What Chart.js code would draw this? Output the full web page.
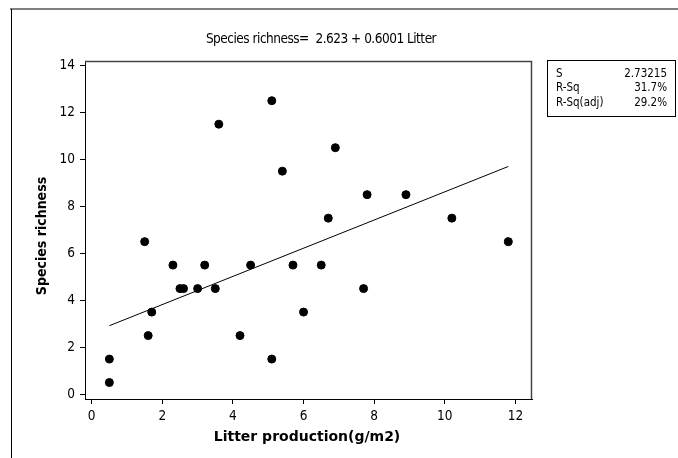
<!DOCTYPE html>
<html>
<head>
<meta charset="utf-8">
<script src="https://cdn.jsdelivr.net/npm/chart.js@4.4.1/dist/chart.umd.min.js"></script>
<style>
  html, body { margin: 0; padding: 0; background: #fff; }
  #wrap { position: relative; width: 678px; height: 458px; }
</style>
</head>
<body>
<div id="wrap"><canvas id="chart" width="678" height="458"></canvas></div>
<script>
// values
var litter = [0.5, 0.5, 1.5, 1.6, 1.7, 2.3, 2.5, 2.6, 3.0, 3.2, 3.5, 3.6, 4.2, 4.5,
              5.1, 5.1, 5.4, 5.7, 6.0, 6.5, 6.7, 6.9, 7.7, 7.8, 8.9, 10.2, 11.8];
var richness = [0.5, 1.5, 6.5, 2.5, 3.5, 5.5, 4.5, 4.5, 4.5, 5.5, 4.5, 11.5, 2.5, 5.5,
                12.5, 1.5, 9.5, 5.5, 3.5, 5.5, 7.5, 10.5, 4.5, 8.5, 8.5, 7.5, 6.5];
var fitX = [0.5, 11.8];
var fitY = [2.92, 9.70];
var xTicks = [0, 2, 4, 6, 8, 10, 12];
var yTicks = [0, 2, 4, 6, 8, 10, 12, 14];
var titleText = "Species richness=  2.623 + 0.6001 Litter";
var xTitle = "Litter production(g/m2)";
var yTitle = "Species richness";
var statLabels = ["S", "R-Sq", "R-Sq(adj)"];
var statValues = ["2.73215", "31.7%", "29.2%"];

var COND = "'DejaVu Sans Condensed','DejaVu Sans',sans-serif";
var WIDE = "'DejaVu Sans',sans-serif";
Chart.defaults.font.family = COND;
Chart.defaults.color = "#000";
Chart.defaults.animation = false;

function pts(xs, ys) {
  return xs.map(function (x, i) { return { x: x, y: ys[i] }; });
}
function fixTicks(list) {
  return function (s) { s.ticks = list.map(function (v) { return { value: v }; }); };
}

// page frame, titles and the S / R-Sq box (Minitab style)
var decor = {
  id: "decor",
  beforeDraw: function (chart) {
    var ctx = chart.ctx;
    ctx.save();
    ctx.fillStyle = "#fff";
    ctx.fillRect(0, 0, chart.width, chart.height);
    ctx.fillStyle = "#808080";
    ctx.fillRect(10, 8, chart.width - 10, 2);
    ctx.fillStyle = "#000";
    ctx.fillRect(11, 9, 1, chart.height - 9);
    ctx.restore();
  },
  afterDraw: function (chart) {
    var ctx = chart.ctx, a = chart.chartArea;
    ctx.save();
    ctx.strokeStyle = "#444";
    ctx.lineWidth = 1.5;
    ctx.beginPath();
    ctx.moveTo(a.left, a.top + 0.5);
    ctx.lineTo(a.right - 0.5, a.top + 0.5);
    ctx.lineTo(a.right - 0.5, a.bottom);
    ctx.stroke();

    ctx.fillStyle = "#000";
    ctx.textBaseline = "middle";
    ctx.textAlign = "center";
    ctx.font = "13.5px " + COND;
    ctx.letterSpacing = "-0.5px";
    ctx.fillText(titleText, 321, 39);
    ctx.letterSpacing = "0px";

    ctx.font = "bold 14px " + WIDE;
    ctx.fillText(xTitle, 307, 437);

    ctx.save();
    ctx.translate(42, 236);
    ctx.rotate(-Math.PI / 2);
    ctx.font = "bold 14px " + COND;
    ctx.fillText(yTitle, 0, 0);
    ctx.restore();

    ctx.strokeStyle = "#000";
    ctx.lineWidth = 1;
    ctx.strokeRect(547.5, 60.5, 128, 56);
    ctx.font = "11.5px " + COND;
    statLabels.forEach(function (lab, i) {
      var y = 74 + i * 14.5;
      ctx.textAlign = "left";
      ctx.fillText(lab, 556, y);
      ctx.textAlign = "right";
      ctx.fillText(statValues[i], 667, y);
    });
    ctx.restore();
  }
};

new Chart(document.getElementById("chart"), {
  type: "scatter",
  data: {
    datasets: [
      {
        label: "fit",
        type: "line",
        data: pts(fitX, fitY),
        borderColor: "#000",
        borderWidth: 1,
        pointRadius: 0,
        fill: false
      },
      {
        label: "data",
        data: pts(litter, richness),
        backgroundColor: "#000",
        borderColor: "#000",
        pointRadius: 4,
        pointHoverRadius: 4
      }
    ]
  },
  options: {
    responsive: false,
    devicePixelRatio: 1,
    layout: { padding: { left: 0, top: 61, right: 146, bottom: 0 } },
    plugins: { legend: { display: false }, tooltip: { enabled: false }, title: { display: false } },
    scales: {
      x: {
        type: "linear",
        min: -0.19,
        max: 12.47,
        afterBuildTicks: fixTicks(xTicks),
        afterFit: function (s) { s.height = 59; },
        grid: { drawOnChartArea: false, drawTicks: true, tickLength: 5, color: "#000" },
        border: { color: "#000", width: 1 },
        ticks: { font: { size: 13.5 }, color: "#000", padding: 4, maxRotation: 0 }
      },
      y: {
        type: "linear",
        min: -0.2,
        max: 14.19,
        afterBuildTicks: fixTicks(yTicks),
        afterFit: function (s) { s.width = 85; },
        grid: { drawOnChartArea: false, drawTicks: true, tickLength: 5, color: "#000" },
        border: { color: "#000", width: 1 },
        ticks: { font: { size: 13.5 }, color: "#000", padding: 5 }
      }
    }
  },
  plugins: [decor]
});
</script>
</body>
</html>
